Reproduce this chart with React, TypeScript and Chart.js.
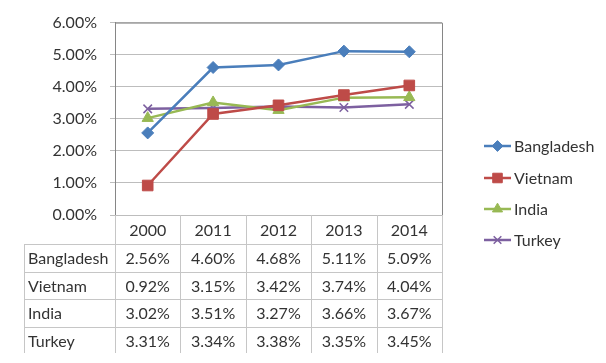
import React, { useEffect, useRef } from 'react';
import { Chart, registerables } from 'chart.js';
import { drawPoint } from 'chart.js/helpers';

Chart.register(...registerables);

const years = ['2000', '2011', '2012', '2013', '2014'];
const seriesNames = ['Bangladesh', 'Vietnam', 'India', 'Turkey'];
const bangladesh = [2.56, 4.6, 4.68, 5.11, 5.09];
const vietnam = [0.92, 3.15, 3.42, 3.74, 4.04];
const india = [3.02, 3.51, 3.27, 3.66, 3.67];
const turkey = [3.31, 3.34, 3.38, 3.35, 3.45];
const yMin = 0;
const yMax = 6;
const yStep = 1;

const FONT = 'Lato, "Open Sans", sans-serif';
const TEXT = '#333333';

const styles = [
  { color: '#4a7ebb', point: 'rectRot', radius: 6, pw: 1 },
  { color: '#be4b48', point: 'rect', radius: 7.5, pw: 1 },
  { color: '#98b954', point: 'triangle', radius: 6.5, pw: 1 },
  { color: '#7d60a0', point: 'crossRot', radius: 6, pw: 1.5 },
];

const tablePlugin = {
  id: 'dataTable',
  afterDraw(chart: any) {
    const ctx = chart.ctx;
    const xs = chart.scales.x;
    const area = chart.chartArea;
    const n = years.length;
    const colW = xs.getPixelForValue(1) - xs.getPixelForValue(0);
    const left0 = xs.getPixelForValue(0) - colW / 2;
    const tableLeft = 24;
    const headerH = 29;
    const rowH = 27.7;
    const top = area.bottom;
    const bottom = 353;
    const data = [bangladesh, vietnam, india, turkey];

    ctx.save();
    ctx.strokeStyle = '#868686';
    ctx.lineWidth = 1;
    ctx.beginPath();
    ctx.moveTo(area.left, area.top + 0.5);
    ctx.lineTo(area.right + 0.5, area.top + 0.5);
    ctx.lineTo(area.right + 0.5, area.bottom);
    ctx.stroke();

    ctx.strokeStyle = '#c6c6c6';
    ctx.beginPath();
    for (let i = 0; i <= n; i++) {
      const x = Math.round(left0 + i * colW) + 0.5;
      ctx.moveTo(x, top);
      ctx.lineTo(x, bottom);
    }
    ctx.moveTo(tableLeft + 0.5, top + headerH);
    ctx.lineTo(tableLeft + 0.5, bottom);
    for (let r = 0; r < seriesNames.length; r++) {
      const y = Math.round(top + headerH + r * rowH) + 0.5;
      ctx.moveTo(tableLeft, y);
      ctx.lineTo(left0 + n * colW + 1, y);
    }
    ctx.stroke();

    ctx.fillStyle = TEXT;
    ctx.font = `16px ${FONT}`;
    ctx.textBaseline = 'middle';
    ctx.textAlign = 'center';
    for (let i = 0; i < n; i++) {
      ctx.fillText(years[i], xs.getPixelForValue(i), top + headerH / 2 + 1);
    }
    for (let r = 0; r < seriesNames.length; r++) {
      const cy = top + headerH + r * rowH + rowH / 2 + 1;
      ctx.textAlign = 'left';
      ctx.fillText(seriesNames[r], tableLeft + 4, cy);
      ctx.textAlign = 'center';
      for (let i = 0; i < n; i++) {
        ctx.fillText(data[r][i].toFixed(2) + '%', xs.getPixelForValue(i), cy);
      }
    }

    const lx0 = 484;
    const lx1 = 511;
    const legendY = [146, 178, 209, 240];
    for (let r = 0; r < seriesNames.length; r++) {
      const s = styles[r];
      const y = legendY[r];
      ctx.strokeStyle = s.color;
      ctx.lineWidth = 2.5;
      ctx.beginPath();
      ctx.moveTo(lx0, y);
      ctx.lineTo(lx1, y);
      ctx.stroke();
      ctx.fillStyle = s.color;
      ctx.strokeStyle = s.color;
      ctx.lineWidth = s.pw;
      drawPoint(ctx, { pointStyle: s.point, radius: s.radius * 0.9, rotation: 0, borderWidth: s.pw }, (lx0 + lx1) / 2, y);
      ctx.fillStyle = TEXT;
      ctx.textAlign = 'left';
      ctx.textBaseline = 'middle';
      ctx.font = `16px ${FONT}`;
      ctx.fillText(seriesNames[r], 514, y + 1);
    }
    ctx.restore();
  },
};

export default function App() {
  const ref = useRef<HTMLCanvasElement | null>(null);
  useEffect(() => {
    if (!ref.current) return;
    const all = [bangladesh, vietnam, india, turkey];
    const chart = new Chart(ref.current, {
      type: 'line',
      data: {
        labels: years,
        datasets: seriesNames.map((name, i) => ({
          label: name,
          data: all[i],
          borderColor: styles[i].color,
          backgroundColor: styles[i].color,
          pointBackgroundColor: styles[i].color,
          pointBorderColor: styles[i].color,
          pointStyle: styles[i].point as any,
          pointRadius: styles[i].radius,
          pointBorderWidth: styles[i].pw,
          borderWidth: 2.5,
          tension: 0,
          fill: false,
        })),
      },
      options: {
        responsive: false,
        animation: false,
        devicePixelRatio: 1,
        layout: { padding: { left: 0, top: 20, right: 164, bottom: 0 } },
        plugins: {
          legend: { display: false },
          tooltip: { enabled: false },
        },
        scales: {
          x: {
            type: 'category',
            offset: true,
            grid: { display: false },
            border: { display: false },
            ticks: { display: false },
            afterFit: (s: any) => {
              s.height = 148;
            },
          },
          y: {
            min: yMin,
            max: yMax,
            ticks: {
              stepSize: yStep,
              padding: 13,
              color: TEXT,
              font: { family: FONT, size: 16 },
              callback: (v: any) => Number(v).toFixed(2) + '%',
            },
            grid: { color: '#bdbdbd', lineWidth: 1, drawTicks: true, tickLength: 5 },
            border: { display: true, color: '#868686' },
            afterFit: (s: any) => {
              s.width = 115;
            },
          },
        },
      },
      plugins: [tablePlugin],
    });
    return () => chart.destroy();
  }, []);
  return (
    <div style={{ position: 'fixed', left: 0, top: 0, width: 606, height: 363, background: '#fff' }}>
      <canvas ref={ref} width={606} height={363} />
    </div>
  );
}
